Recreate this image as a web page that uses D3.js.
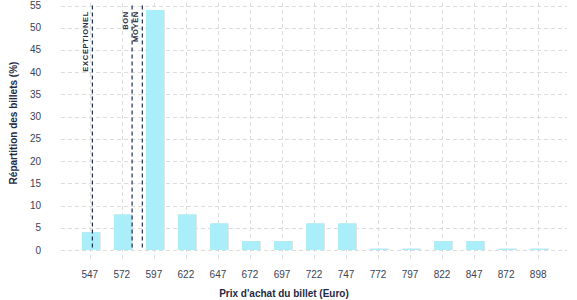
<!DOCTYPE html>
<html>
<head>
<meta charset="utf-8">
<style>
body { margin: 0; background: #fff; }
svg { font-family: "Liberation Sans", Arial, sans-serif; }
.grid line { stroke: #dcdcdc; stroke-dasharray: 4,3; stroke-width: 1; }
.tick-label { font-size: 10px; fill: #3a4256; }
.title { font-size: 10px; font-weight: bold; fill: #1f2a44; }
.marker { stroke: #1f2d4f; stroke-width: 1.2; stroke-dasharray: 4,3; }
.marker-label { font-size: 7.5px; font-weight: bold; fill: #1f2a44; letter-spacing: 0.7px; }
</style>
</head>
<body>
<svg width="577" height="300"></svg>
<script src="https://cdnjs.cloudflare.com/ajax/libs/d3/7.8.5/d3.min.js"></script>
<script>

// prix (categories) et répartition en %
var prices = ["547", "572", "597", "622", "647", "672", "697", "722", "747", "772", "797", "822", "847", "872", "898"];
var shares = [4, 8, 54, 8, 6, 2, 2, 6, 6, 0.3, 0.3, 2, 2, 0.3, 0.3];
var yTicks = [0, 5, 10, 15, 20, 25, 30, 35, 40, 45, 50, 55];

// seuils de prix
var markerNames = ["EXCEPTIONEL", "BON", "MOYEN"];
var markerPrices = [549, 580, 588];

var svg = d3.select("svg");

var x = d3.scaleBand()
    .domain(prices)
    .range([61, 567])
    .paddingInner(0)
    .paddingOuter(0.4);

var y = d3.scaleLinear()
    .domain([0, 55])
    .range([250, 5.5]);

function cx(p) { return x(p) + x.bandwidth() / 2; }

// linear price scale for the threshold lines
var px = d3.scaleLinear()
    .domain([547, 572])
    .range([cx("547"), cx("572")]);

// grid
var grid = svg.append("g").attr("class", "grid");
grid.selectAll("line.h")
    .data(yTicks)
  .enter().append("line")
    .attr("class", "h")
    .attr("x1", 61).attr("x2", 567)
    .attr("y1", function(d) { return Math.round(y(d)) + 0.5; })
    .attr("y2", function(d) { return Math.round(y(d)) + 0.5; });
grid.selectAll("line.v")
    .data(prices)
  .enter().append("line")
    .attr("class", "v")
    .attr("x1", function(d) { return Math.round(cx(d)) + 0.5; })
    .attr("x2", function(d) { return Math.round(cx(d)) + 0.5; })
    .attr("y1", 3).attr("y2", 262);

// y labels
svg.append("g").selectAll("text")
    .data(yTicks)
  .enter().append("text")
    .attr("class", "tick-label")
    .attr("x", 41)
    .attr("y", function(d) { return y(d) + 3.5; })
    .attr("text-anchor", "end")
    .text(function(d) { return d; });

// x labels
svg.append("g").selectAll("text")
    .data(prices)
  .enter().append("text")
    .attr("class", "tick-label")
    .attr("x", function(d) { return cx(d); })
    .attr("y", 278)
    .attr("text-anchor", "middle")
    .text(function(d) { return d; });

// bars (shadow + bar)
var bars = svg.append("g");
bars.selectAll("rect.shadow")
    .data(prices)
  .enter().append("rect")
    .attr("class", "shadow")
    .attr("x", function(d) { return cx(d) - 7; })
    .attr("y", function(d, i) { return y(shares[i]); })
    .attr("width", 18)
    .attr("height", function(d, i) { return y(0) - y(shares[i]); })
    .attr("fill", "#e2e2e2");
bars.selectAll("rect.bar")
    .data(prices)
  .enter().append("rect")
    .attr("class", "bar")
    .attr("x", function(d) { return cx(d) - 8; })
    .attr("y", function(d, i) { return y(shares[i]); })
    .attr("width", 18)
    .attr("height", function(d, i) { return y(0) - y(shares[i]); })
    .attr("fill", "#aaeef9");

// threshold lines
var mk = svg.append("g");
mk.selectAll("line")
    .data(markerPrices)
  .enter().append("line")
    .attr("class", "marker")
    .attr("x1", function(d) { return px(d); })
    .attr("x2", function(d) { return px(d); })
    .attr("y1", y(55))
    .attr("y2", y(0));
mk.selectAll("text")
    .data(markerNames)
  .enter().append("text")
    .attr("class", "marker-label")
    .attr("text-anchor", "end")
    .attr("transform", function(d, i) {
      return "translate(" + (px(markerPrices[i]) - 4) + ",11) rotate(-90)";
    })
    .text(function(d) { return d; });

// axis titles
svg.append("text")
    .attr("class", "title")
    .attr("x", 284)
    .attr("y", 297)
    .attr("text-anchor", "middle")
    .text("Prix d'achat du billet (Euro)");

svg.append("text")
    .attr("class", "title")
    .attr("text-anchor", "middle")
    .attr("transform", "translate(17,123) rotate(-90)")
    .text("Répartition des billets (%)");

</script>
</body>
</html>
